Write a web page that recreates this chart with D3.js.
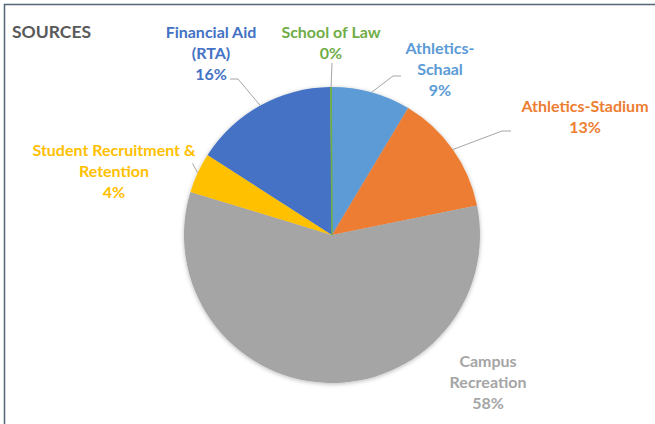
<!DOCTYPE html>
<html>
<head>
<meta charset="utf-8">
<script src="https://cdn.jsdelivr.net/npm/d3@7"></script>
<style>
  html, body { margin: 0; padding: 0; background: #ffffff; }
  svg { display: block; }
  text { font-family: Lato, "Open Sans", sans-serif; font-weight: 700; }
</style>
</head>
<body>
<svg id="chart" width="655" height="424"></svg>
<script>
// Funding sources, share of total (percent)
const categories = [
  "Athletics-Schaal",
  "Athletics-Stadium",
  "Campus Recreation",
  "Student Recruitment & Retention",
  "Financial Aid (RTA)",
  "School of Law"
];
const shares = [8.6, 13.2, 57.9, 4.4, 15.7, 0.2];
const colors = ["#5B9BD5", "#ED7D31", "#A5A5A5", "#FFC000", "#4472C4", "#70AD47"];
// Label text lines (percent line appended from the data)
const labelLines = [
  ["Athletics-", "Schaal"],
  ["Athletics-Stadium"],
  ["Campus", "Recreation"],
  ["Student Recruitment &", "Retention"],
  ["Financial Aid", "(RTA)"],
  ["School of Law"]
];

// Label placement: centre x, first baseline y, leader elbow (or null)
const labelPos = [
  { x: 440, y: 53.5, elbow: [[401, 76], [393, 76]] },
  { x: 585, y: 111.5, elbow: [[511, 131], [502, 131]] },
  { x: 488, y: 366.5, elbow: null },
  { x: 114, y: 156, elbow: [[192.5, 163.5]] },
  { x: 211, y: 37.5, elbow: [[230, 79], [238, 79]] },
  { x: 331, y: 37.5, elbow: [[332, 63]] }
];

const W = 655, H = 424;
const cx = 332, cy = 235, R = 148;
const lineH = 21;

const svg = d3.select("#chart");

// Chart frame
svg.append("rect")
  .attr("x", 4.5).attr("y", 4.5)
  .attr("width", W + 20).attr("height", H + 20)
  .attr("fill", "#ffffff")
  .attr("stroke", "#56667a")
  .attr("stroke-width", 1.5);

// Soft shadow under the pie
const defs = svg.append("defs");
const f = defs.append("filter").attr("id", "pieShadow")
  .attr("x", "-10%").attr("y", "-10%").attr("width", "120%").attr("height", "120%");
f.append("feDropShadow")
  .attr("dx", 0).attr("dy", 1)
  .attr("stdDeviation", 2.2)
  .attr("flood-color", "#000").attr("flood-opacity", 0.28);

// Title
svg.append("text")
  .attr("x", 12).attr("y", 38)
  .attr("font-size", 17.5)
  .attr("fill", "#595959")
  .text("SOURCES");

const data = categories.map((c, i) => ({ name: c, value: shares[i], color: colors[i], lines: labelLines[i], pos: labelPos[i] }));
const total = d3.sum(shares);

const pie = d3.pie().value(d => d.value).sort(null);
const arcs = pie(data);
const arc = d3.arc().innerRadius(0).outerRadius(R);

const g = svg.append("g").attr("transform", `translate(${cx},${cy})`);
g.append("g").attr("filter", "url(#pieShadow)")
  .selectAll("path")
  .data(arcs)
  .join("path")
  .attr("d", arc)
  .attr("fill", d => d.data.color);

// Keep the near-zero slice visible as a thin line
arcs.forEach(a => {
  if (a.endAngle - a.startAngle < 0.02) {
    const m = (a.startAngle + a.endAngle) / 2;
    g.append("line")
      .attr("x1", 0).attr("y1", 0)
      .attr("x2", R * Math.sin(m)).attr("y2", -R * Math.cos(m))
      .attr("stroke", a.data.color).attr("stroke-width", 1.6);
  }
});

// Leader lines to the outer edge of each slice
arcs.forEach(a => {
  const p = a.data.pos;
  if (!p.elbow) return;
  const m = (a.startAngle + a.endAngle) / 2;
  const end = [cx + R * Math.sin(m), cy - R * Math.cos(m)];
  const pts = p.elbow.concat([end]);
  svg.append("path")
    .attr("d", d3.line()(pts))
    .attr("fill", "none")
    .attr("stroke", "#a6a6a6")
    .attr("stroke-width", 1);
});

// Data labels
arcs.forEach(a => {
  const p = a.data.pos;
  const pct = Math.round(a.data.value / total * 100) + "%";
  const lines = a.data.lines.concat([pct]);
  const t = svg.append("text")
    .attr("text-anchor", "middle")
    .attr("font-size", 16)
    .attr("fill", a.data.color);
  lines.forEach((s, i) => {
    t.append("tspan").attr("x", p.x).attr("y", p.y + i * lineH).text(s);
  });
});
</script>
</body>
</html>
